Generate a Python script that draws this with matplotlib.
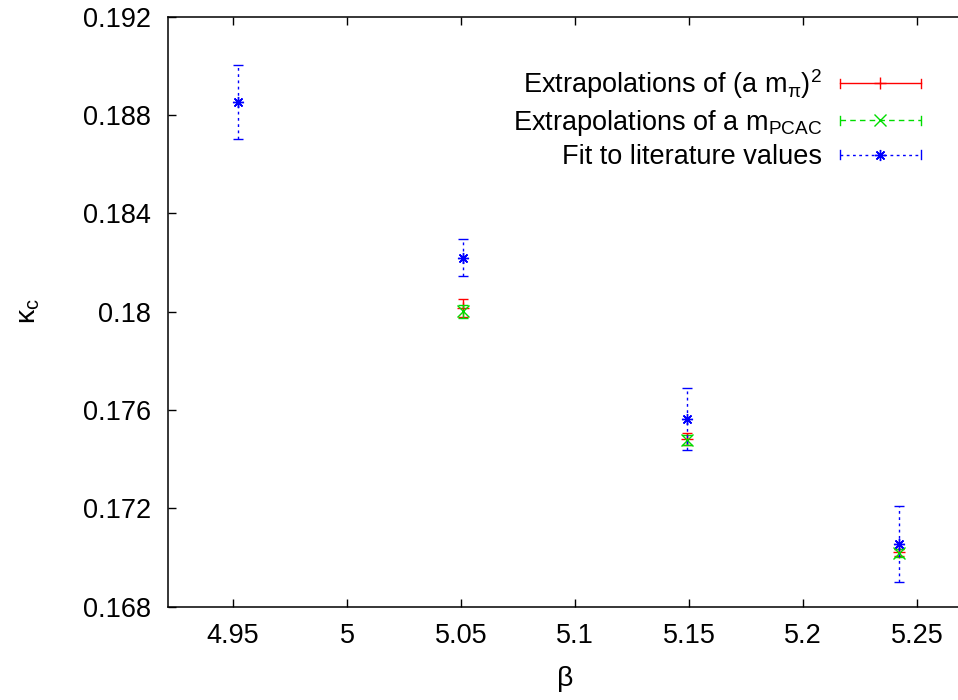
import matplotlib
matplotlib.use("Agg")
import matplotlib.pyplot as plt
from matplotlib.lines import Line2D
from matplotlib.legend_handler import HandlerBase

plt.rcParams['font.family'] = ['Liberation Sans', 'DejaVu Sans']
plt.rcParams['mathtext.fontset'] = 'custom'
plt.rcParams['mathtext.rm'] = 'Liberation Sans'
plt.rcParams['mathtext.it'] = 'Liberation Sans'
plt.rcParams['mathtext.default'] = 'regular'

# ---- data ----
beta_pi = [5.051, 5.149, 5.242]
kappa_pi = [0.18015, 0.17481, 0.17020]
err_pi = [0.00036, 0.00024, 0.00013]

beta_pcac = [5.051, 5.149, 5.242]
kappa_pcac = [0.18001, 0.17478, 0.17018]
err_pcac = [0.00027, 0.00020, 0.00015]

beta_lit = [4.952, 5.051, 5.149, 5.242]
kappa_lit = [0.18852, 0.18218, 0.17562, 0.17054]
err_lit = [0.00152, 0.00075, 0.00125, 0.00154]

labels = [r"Extrapolations of (a m$_{\pi}$)$^{2}$",
          r"Extrapolations of a m$_{\mathrm{PCAC}}$",
          "Fit to literature values"]
xticks = [4.95, 5.0, 5.05, 5.1, 5.15, 5.2, 5.25]
xticklabels = ["4.95", "5", "5.05", "5.1", "5.15", "5.2", "5.25"]
yticks = [0.168, 0.172, 0.176, 0.18, 0.184, 0.188, 0.192]
yticklabels = ["0.168", "0.172", "0.176", "0.18", "0.184", "0.188", "0.192"]

FS = 19.5
fig = plt.figure(figsize=(9.58, 7.0), dpi=100)
ax = fig.add_axes([168/958, 1-606.5/700, 795/958, 590/700])

styles = [
    dict(color='#ff0000', marker='+', ls='-'),
    dict(color='#00dd00', marker='x', ls=(0, (4, 3))),
    dict(color='#0000ff', marker=(8, 2, 0), ls=(0, (2, 2.5))),
]
series = [(beta_pi, kappa_pi, err_pi), (beta_pcac, kappa_pcac, err_pcac),
          (beta_lit, kappa_lit, err_lit)]

containers = []
for (xs, ys, es), st in zip(series, styles):
    eb = ax.errorbar(xs, ys, yerr=es, fmt='none', ecolor=st['color'],
                     elinewidth=1.0, capsize=3.6, capthick=1.0)
    for col in eb[2]:
        col.set_linestyle(st['ls'])
    ax.plot(xs, ys, linestyle='none', marker=st['marker'], color=st['color'],
            markersize=8, markeredgewidth=1.0)
    containers.append(eb)


class GnuHandler(HandlerBase):
    def __init__(self, color, marker, ls):
        super().__init__()
        self.color, self.marker, self.ls = color, marker, ls

    def create_artists(self, legend, orig_handle, xdescent, ydescent,
                       width, height, fontsize, trans):
        y = height / 2 - ydescent
        x0 = -xdescent
        x1 = -xdescent + width
        h = 3.2
        arts = [
            Line2D([x0, x1], [y, y], color=self.color, linestyle=self.ls, lw=1.0),
            Line2D([x0, x0], [y - h, y + h], color=self.color, lw=1.0),
            Line2D([x1, x1], [y - h, y + h], color=self.color, lw=1.0),
            Line2D([(x0 + x1) / 2], [y], color=self.color, marker=self.marker,
                   markersize=8, markeredgewidth=1.0, linestyle='none'),
        ]
        for a in arts:
            a.set_transform(trans)
        return arts


hmap = {c: GnuHandler(st['color'], st['marker'], st['ls'])
        for c, st in zip(containers, styles)}
leg = ax.legend(containers, labels, handler_map=hmap, loc='upper right',
                bbox_to_anchor=((921-168)/795, (606.5-67)/590),
                frameon=False, markerfirst=False, fontsize=FS,
                handlelength=3.0, handletextpad=0.65, labelspacing=0.25,
                borderpad=0, borderaxespad=0)

ax.set_xlim(4.9215, 5.2702)
ax.set_ylim(0.168, 0.192)
ax.set_xticks(xticks)
ax.set_xticklabels(xticklabels)
ax.set_yticks(yticks)
ax.set_yticklabels(yticklabels)
ax.tick_params(direction='in', length=6, width=1.0, top=True, right=False,
               labelsize=FS, pad=12)
for sp in ax.spines.values():
    sp.set_linewidth(1.1)

ax.set_xlabel("β", fontsize=FS + 1, labelpad=12)
ax.set_ylabel(r"κ$_{c}$", fontsize=FS + 1, labelpad=30)

fig.savefig("out.png", dpi=100)
